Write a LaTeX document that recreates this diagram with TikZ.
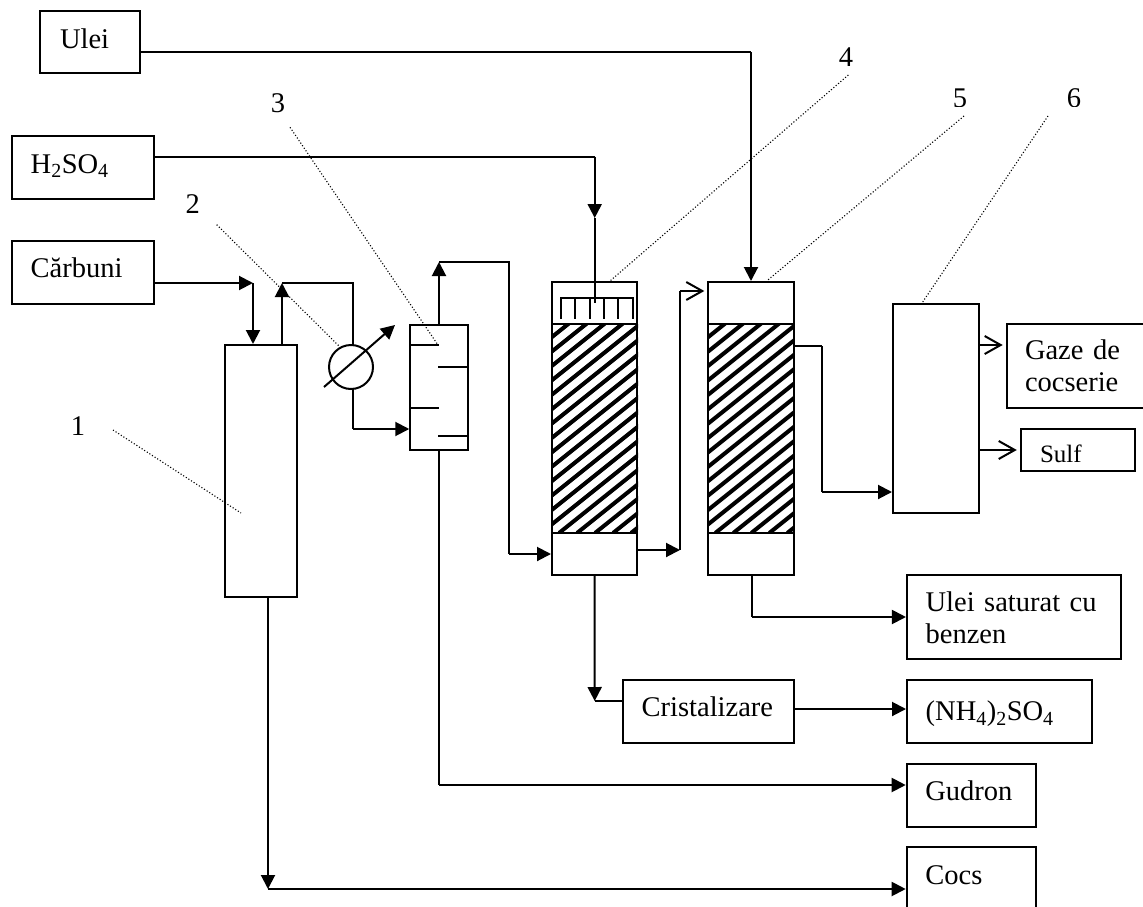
\documentclass[tikz,border=0pt]{standalone}
\usepackage{fontspec}
\setmainfont{Liberation Serif}
\usetikzlibrary{arrows.meta,calc}
\newcommand{\packing}[1]{%
  \begin{scope}
    \clip (#1.west |- 0,324) rectangle (#1.east |- 0,533);
    \foreach \hx in {-280,-262,...,100}
      \draw[line width=4pt] ($(#1.west |- 0,533)+(\hx,0)$) -- ++(280,-224);
  \end{scope}
  \draw (#1.west |- 0,324) -- (#1.east |- 0,324);
  \draw (#1.west |- 0,533) -- (#1.east |- 0,533);
}
\begin{document}
\begin{tikzpicture}[x=1pt,y=-1pt,line width=2pt,
  flow/.style={-{Triangle[length=14pt,width=14pt]}},
  open/.style={-{Straight Barb[length=16pt,width=18pt]},shorten >=3pt},
  leader/.style={dotted,line width=1.1pt},
  num/.style={font=\fontsize{28.5}{32}\selectfont,inner sep=0pt},
  unit/.style args={#1 by #2}{draw,minimum width=#1,minimum height=#2,inner sep=0pt},
  stream/.style args={#1 by #2 pad #3}{draw,minimum width=#1,minimum height=#2,
    inner xsep=#3,inner ysep=0pt,text width=#1-2*#3,align=left,
    text height=11pt,text depth=0pt,
    font=\fontsize{28.5}{31.7}\selectfont}]
\clip (0,0) rectangle (1143,907);
% ---------- feeds ----------
\node[stream=100.3pt by 62.6pt pad 20pt,text height=12.6pt] (ulei) at (90.2,42) {Ulei};
\node[stream=142.6pt by 63pt pad 19pt] (acid) at (83,167.8) {H\textsubscript{2}SO\textsubscript{4}};
\node[stream=142.6pt by 62.7pt pad 19pt] (carbuni) at (83,272.3) {Cărbuni};
% ---------- equipment ----------
\node[unit=72pt by 252pt] (col1) at (261,471) {};
\node[draw,circle,minimum size=44pt,inner sep=0pt] (cooler) at (351,367) {};
\node[unit=57.5pt by 125pt] (sep) at (439,387.5) {};
\node[unit=85pt by 293pt] (col4) at (594.5,428.5) {};
\node[unit=85.4pt by 293pt] (col5) at (751,428.5) {};
\node[unit=86pt by 209pt] (col6) at (936,408) {};
\packing{col4}
\packing{col5}
% cooler crossing arrow
\coordinate (coolin) at (324,387);
\coordinate (coolout) at (395,325);
\draw[flow] (coolin) -- (coolout);
% baffles
\draw (sep.west |- 0,345) -- (439,345);
\draw (438,367) -- (sep.east |- 0,367);
\draw (sep.west |- 0,408) -- (439,408);
\draw (438,436) -- (sep.east |- 0,436);
% distributor
\draw (561,319) -- (561,298) -- (633,298) -- (633,319);
\foreach \tx in {575.3,589.7,604,618.3}
  \draw (\tx,298) -- (\tx,319);
% ---------- products ----------
\node[stream=140pt by 83.7pt pad 18.3pt,text height=20pt,text depth=32pt] (gaze) at (1076.7,365.9) {Gaze de\\cocserie};
\begin{scope}
  \clip (1000,429) rectangle (1143,462);
  \node[stream=114.3pt by 42pt pad 19.3pt,font=\fontsize{25}{28}\selectfont,text height=24pt] (sulf) at (1077.9,450) {Sulf};
\end{scope}
\draw (1020.7,429) rectangle (1135,471);
\node[stream=213.7pt by 84pt pad 18.7pt,text height=20.8pt,text depth=32pt] (ulsat) at (1013.8,617.3) {Ulei saturat cu\\benzen};
\node[stream=170.8pt by 62.7pt pad 19pt] (crist) at (708.1,711.3) {Cristalizare};
\node[stream=185pt by 62.7pt pad 18.7pt,text height=19pt] (sulfat) at (999.5,711.3) {(NH\textsubscript{4})\textsubscript{2}SO\textsubscript{4}};
\node[stream=129pt by 62.7pt pad 18.7pt] (gudron) at (971.2,795.3) {Gudron};
\node[stream=129pt by 66pt pad 18.7pt,text height=8pt] (cocs) at (971.2,880) {Cocs};
% ---------- connections ----------
\coordinate (jcarb) at (253,283);
\draw[flow] (jcarb -| carbuni.east) -- (jcarb);
\draw[flow] (jcarb) -- (jcarb |- col1.north);
\coordinate (jgas) at (282,283);
\draw[flow] (jgas |- col1.north) -- (jgas);
\draw (jgas) -| (353,345);
\coordinate (jcool) at (353,429);
\draw (353,388) -- (jcool);
\draw[flow] (jcool) -- (jcool -| sep.west);
\coordinate (jtop) at (439,262);
\draw[flow] (sep.north) -- (jtop);
\coordinate (jin) at (509,554);
\draw (jtop) -| (jin);
\draw[flow] (jin) -- (jin -| col4.west);
\coordinate (jacid) at (594.7,218);
\coordinate (jacidtop) at (594.7,156.7);
\draw (jacidtop -| acid.east) -- (jacidtop);
\draw[flow] (jacidtop) -- (jacid);
\draw (jacid) -- (594.7,303);
\coordinate (joil) at (751,52.3);
\draw (joil -| ulei.east) -- (joil);
\draw[flow] (joil) -- (col5.north);
\coordinate (jup) at (680,550);
\draw[flow] (jup -| col4.east) -- (jup);
\coordinate (jtop5) at (680,291);
\draw (jup) -- (jtop5);
\draw[open] (jtop5) -- (jtop5 -| col5.west);
\coordinate (jgaz) at (822,346);
\draw (jgaz -| col5.east) -- (jgaz);
\coordinate (jcol6) at (822,492);
\draw (jgaz) -- (jcol6);
\draw[flow] (jcol6) -- (jcol6 -| col6.west);
\draw[open] (col6.east |- 0,345) -- (gaze.west |- 0,345);
\draw[open] (col6.east |- 0,450) -- (sulf.west |- 0,450);
\coordinate (jbott) at (594.7,701);
\draw[flow] (col4.south) -- (jbott);
\draw (jbott) -- (jbott -| crist.west);
\coordinate (jcr) at (793.5,709);
\draw[flow] (jcr) -- (jcr -| sulfat.west);
\coordinate (jsat) at (752,617);
\draw (col5.south -| jsat) -- (jsat);
\draw[flow] (jsat) -- (jsat -| ulsat.west);
\coordinate (jgud) at (439,785);
\draw (sep.south) -- (jgud);
\draw[flow] (jgud) -- (jgud -| gudron.west);
\coordinate (jcocs) at (268,889);
\draw[flow] (col1.south -| jcocs) -- (jcocs);
\draw[flow] (jcocs) -- (jcocs -| cocs.west);
% ---------- numbers and leaders ----------
\node[num] (n1) at (78,426) {1};
\node[num] (n2) at (192.7,204) {2};
\node[num] (n3) at (278,103.3) {3};
\node[num] (n4) at (846,56.7) {4};
\begin{scope}
  \clip (940,80) rectangle (1100,106);
  \node[num] (n5) at (960,98) {5};
  \node[num] (n6) at (1074,98) {6};
\end{scope}
\draw[leader] (113,430) -- (241,513);
\draw[leader] (216.7,224.7) -- (340,347);
\draw[leader] (290,127.3) -- (438,345);
\draw[leader] (848.3,75) -- (610,281);
\draw[leader] (964,116) -- (766.7,281);
\draw[leader] (1048,116) -- (922.7,302);
\end{tikzpicture}
\end{document}
